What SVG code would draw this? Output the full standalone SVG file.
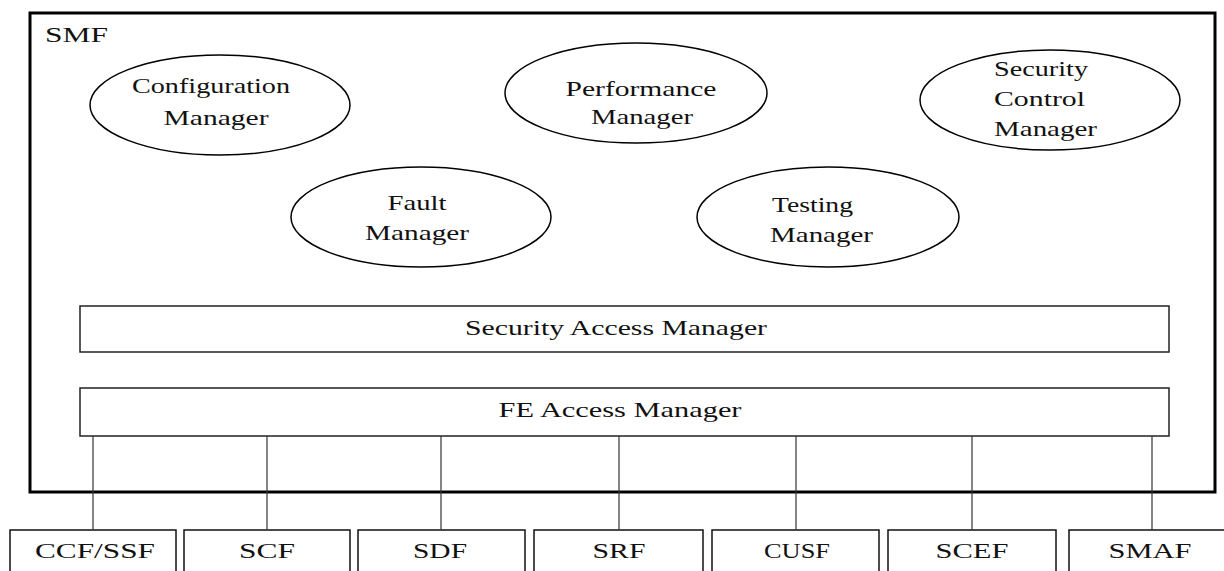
<svg xmlns="http://www.w3.org/2000/svg" width="1224" height="571" viewBox="0 0 1224 571">
  <style>
    text { font-family: "Liberation Serif", "Times New Roman", serif; font-size: 22px; fill: #111; }
    .mid { text-anchor: middle; }
    .frame { fill: none; stroke: #000; stroke-width: 3; }
    .oval { fill: #fff; stroke: #000; stroke-width: 1.5; }
    .bar { fill: #fff; stroke: #222; stroke-width: 1.5; }
    .fe { fill: #fff; stroke: #111; stroke-width: 1.5; }
    .link { stroke: #333; stroke-width: 1.2; fill: none; }
  </style>

  <!-- Service management function container -->
  <g id="smf">
    <rect class="frame" x="30" y="13" width="1185" height="479"/>
    <text x="45" y="42" textLength="63" lengthAdjust="spacingAndGlyphs">SMF</text>
  </g>

  <g id="configuration-manager">
    <ellipse class="oval" cx="220" cy="105" rx="130" ry="50"/>
    <text class="mid" x="211" y="93" textLength="158" lengthAdjust="spacingAndGlyphs">Configuration</text>
    <text class="mid" x="216" y="125" textLength="105" lengthAdjust="spacingAndGlyphs">Manager</text>
  </g>

  <g id="performance-manager">
    <ellipse class="oval" cx="636" cy="93" rx="131" ry="50"/>
    <text class="mid" x="641" y="96" textLength="151" lengthAdjust="spacingAndGlyphs">Performance</text>
    <text class="mid" x="642" y="124" textLength="102" lengthAdjust="spacingAndGlyphs">Manager</text>
  </g>

  <g id="security-control-manager">
    <ellipse class="oval" cx="1050" cy="100" rx="130" ry="50"/>
    <text x="994" y="76" textLength="94" lengthAdjust="spacingAndGlyphs">Security</text>
    <text x="994" y="106" textLength="91" lengthAdjust="spacingAndGlyphs">Control</text>
    <text x="994" y="136" textLength="103" lengthAdjust="spacingAndGlyphs">Manager</text>
  </g>

  <g id="fault-manager">
    <ellipse class="oval" cx="421" cy="217" rx="130" ry="50"/>
    <text class="mid" x="417" y="210" textLength="59" lengthAdjust="spacingAndGlyphs">Fault</text>
    <text class="mid" x="417" y="240" textLength="104" lengthAdjust="spacingAndGlyphs">Manager</text>
  </g>

  <g id="testing-manager">
    <ellipse class="oval" cx="828" cy="217" rx="131" ry="50"/>
    <text x="772" y="212" textLength="81" lengthAdjust="spacingAndGlyphs">Testing</text>
    <text x="770" y="242" textLength="103" lengthAdjust="spacingAndGlyphs">Manager</text>
  </g>

  <g id="security-access-manager">
    <rect class="bar" x="80" y="306" width="1089" height="46"/>
    <text class="mid" x="616" y="335" textLength="302" lengthAdjust="spacingAndGlyphs">Security Access Manager</text>
  </g>

  <g id="fe-access-manager">
    <rect class="bar" x="80" y="388" width="1089" height="48"/>
    <text class="mid" x="620" y="417" textLength="243" lengthAdjust="spacingAndGlyphs">FE Access Manager</text>
  </g>

  <!-- Functional entities reached through the FE Access Manager -->
  <g id="ccf-ssf">
    <rect class="fe" x="10" y="530" width="166" height="50"/>
    <text class="mid" x="95" y="558" textLength="120" lengthAdjust="spacingAndGlyphs">CCF/SSF</text>
  </g>
  <g id="scf">
    <rect class="fe" x="184" y="530" width="166" height="50"/>
    <text class="mid" x="267" y="558" textLength="56" lengthAdjust="spacingAndGlyphs">SCF</text>
  </g>
  <g id="sdf">
    <rect class="fe" x="358" y="530" width="167" height="50"/>
    <text class="mid" x="440" y="558" textLength="54" lengthAdjust="spacingAndGlyphs">SDF</text>
  </g>
  <g id="srf">
    <rect class="fe" x="534" y="530" width="169" height="50"/>
    <text class="mid" x="619" y="558" textLength="53" lengthAdjust="spacingAndGlyphs">SRF</text>
  </g>
  <g id="cusf">
    <rect class="fe" x="712" y="530" width="167" height="50"/>
    <text class="mid" x="797" y="558" textLength="66" lengthAdjust="spacingAndGlyphs">CUSF</text>
  </g>
  <g id="scef">
    <rect class="fe" x="888" y="530" width="168" height="50"/>
    <text class="mid" x="972" y="558" textLength="73" lengthAdjust="spacingAndGlyphs">SCEF</text>
  </g>
  <g id="smaf">
    <rect class="fe" x="1069" y="530" width="170" height="50"/>
    <text class="mid" x="1150" y="558" textLength="83" lengthAdjust="spacingAndGlyphs">SMAF</text>
  </g>

  <!-- Links from the FE Access Manager down to each entity -->
  <g id="connectors">
    <line class="link" x1="93" y1="436" x2="93" y2="530"/>
    <line class="link" x1="267" y1="436" x2="267" y2="530"/>
    <line class="link" x1="441" y1="436" x2="441" y2="530"/>
    <line class="link" x1="619" y1="436" x2="619" y2="530"/>
    <line class="link" x1="796" y1="436" x2="796" y2="530"/>
    <line class="link" x1="972" y1="436" x2="972" y2="530"/>
    <line class="link" x1="1152" y1="436" x2="1152" y2="530"/>
  </g>
</svg>
